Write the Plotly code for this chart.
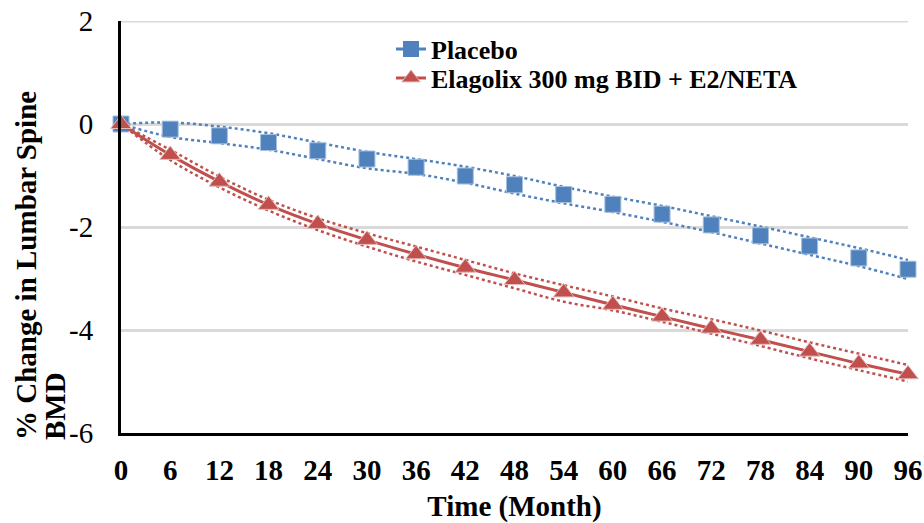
import plotly.graph_objects as go

# Months since baseline
months = [0, 6, 12, 18, 24, 30, 36, 42, 48, 54, 60, 66, 72, 78, 84, 90, 96]

# Placebo: mean % change with lower/upper bounds
placebo = [0, -0.10, -0.23, -0.36, -0.52, -0.68, -0.84, -1.01, -1.18, -1.37,
           -1.56, -1.75, -1.96, -2.17, -2.37, -2.60, -2.82]
placebo_upper = [0, 0.03, -0.05, -0.18, -0.36, -0.54, -0.68, -0.83, -1.01, -1.22,
                 -1.41, -1.59, -1.79, -1.99, -2.20, -2.41, -2.64]
placebo_lower = [0, -0.25, -0.37, -0.50, -0.68, -0.86, -0.97, -1.14, -1.35, -1.54,
                 -1.71, -1.90, -2.10, -2.32, -2.54, -2.76, -3.01]

# Elagolix 300 mg BID + E2/NETA: mean % change with lower/upper bounds
elagolix = [0, -0.60, -1.12, -1.57, -1.94, -2.25, -2.53, -2.79, -3.03, -3.27,
            -3.51, -3.74, -3.97, -4.19, -4.42, -4.65, -4.86]
elagolix_upper = [0, -0.50, -1.02, -1.47, -1.83, -2.12, -2.38, -2.64, -2.90, -3.13,
                  -3.35, -3.58, -3.79, -4.01, -4.24, -4.46, -4.68]
elagolix_lower = [0, -0.70, -1.23, -1.68, -2.06, -2.38, -2.67, -2.93, -3.19, -3.45,
                  -3.62, -3.84, -4.07, -4.31, -4.55, -4.78, -5.00]

x_ticks = months
y_ticks = [-6, -4, -2, 0, 2]

BLUE = "#4F81BD"
RED = "#C0504D"
GRID = "#D9D9D9"
FONT = "Liberation Serif"

# Plot-area geometry in pixels
L, R, T, B = 121, 16, 21, 90
PW, PH = 924 - L - R, 523 - T - B


def px_x(px):
    return (px - L) / PW


def px_y(py):
    return 1 - (py - T) / PH


fig = go.Figure()

# Bound curves (dotted, smoothed)
for ys, col in [(placebo_upper, BLUE), (placebo_lower, BLUE),
                (elagolix_upper, RED), (elagolix_lower, RED)]:
    fig.add_trace(go.Scatter(
        x=months, y=ys, mode="lines", showlegend=False, hoverinfo="skip",
        line=dict(color=col, width=2.5, dash="3px,3px", shape="spline"),
        cliponaxis=False,
    ))

# Placebo means: markers only in the plot
fig.add_trace(go.Scatter(
    x=months, y=placebo, mode="markers", showlegend=False, name="Placebo",
    marker=dict(symbol="square", size=16, color=BLUE,
                line=dict(color="#A7BFDE", width=1)),
    cliponaxis=False,
))
# Legend key for placebo (line + marker)
fig.add_trace(go.Scatter(
    x=[None], y=[None], mode="lines+markers", name="Placebo",
    line=dict(color=BLUE, width=3),
    marker=dict(symbol="square", size=16, color=BLUE),
    legend="legend",
))

# Elagolix means: solid line with triangles
fig.add_trace(go.Scatter(
    x=months, y=elagolix, mode="lines+markers", name="Elagolix 300 mg BID + E2/NETA",
    line=dict(color=RED, width=3, shape="spline"),
    marker=dict(symbol="triangle-up", size=18, color=RED,
                line=dict(color="#E6B9B8", width=1)),
    cliponaxis=False,
    legend="legend2",
))

legend_font = dict(family=FONT, size=26, color="black", weight="bold")
legend_x = px_x(391)

fig.update_layout(
    width=924, height=523,
    margin=dict(l=L, r=R, t=T, b=B, autoexpand=False),
    paper_bgcolor="white", plot_bgcolor="white",
    font=dict(family=FONT, color="black"),
    showlegend=True,
    legend=dict(
        x=legend_x, y=px_y(49), xanchor="left", yanchor="middle",
        bgcolor="rgba(0,0,0,0)", font=legend_font,
    ),
    legend2=dict(
        x=legend_x, y=px_y(78), xanchor="left", yanchor="middle",
        bgcolor="rgba(0,0,0,0)", font=legend_font,
    ),
    xaxis=dict(
        range=[0, 96], tickmode="array", tickvals=x_ticks,
        ticktext=[str(v) for v in x_ticks],
        showgrid=False, zeroline=False, automargin=False,
        showline=True, linecolor="black", linewidth=3,
        ticks="", ticklabelstandoff=9,
        tickfont=dict(family=FONT, size=29, color="black", weight="bold"),
        title=dict(text="Time (Month)", standoff=12,
                   font=dict(family=FONT, size=29, color="black", weight="bold")),
    ),
    yaxis=dict(
        range=[-6, 2], tickmode="array", tickvals=y_ticks,
        ticktext=[str(v) for v in y_ticks],
        showgrid=True, gridcolor=GRID, gridwidth=3,
        zeroline=False, automargin=False,
        showline=True, linecolor="black", linewidth=3,
        ticks="", ticklabelstandoff=19,
        tickfont=dict(family=FONT, size=29, color="black"),
    ),
    # gridline at the top tick value, which sits on the plot edge
    shapes=[
        dict(type="line", xref="paper", x0=0, x1=1, yref="y",
             y0=max(y_ticks), y1=max(y_ticks), layer="below",
             line=dict(color=GRID, width=3)),
    ],
    annotations=[
        dict(text="<b>% Change in Lumbar Spine</b>", textangle=-90,
             xref="paper", yref="paper",
             x=px_x(26), y=px_y(266),
             xanchor="center", yanchor="middle", showarrow=False,
             font=dict(family=FONT, size=29, color="black")),
        dict(text="<b>BMD</b>", textangle=-90,
             xref="paper", yref="paper",
             x=px_x(55), y=px_y(406),
             xanchor="center", yanchor="middle", showarrow=False,
             font=dict(family=FONT, size=29, color="black")),
    ],
)

fig.write_html("out.html")
